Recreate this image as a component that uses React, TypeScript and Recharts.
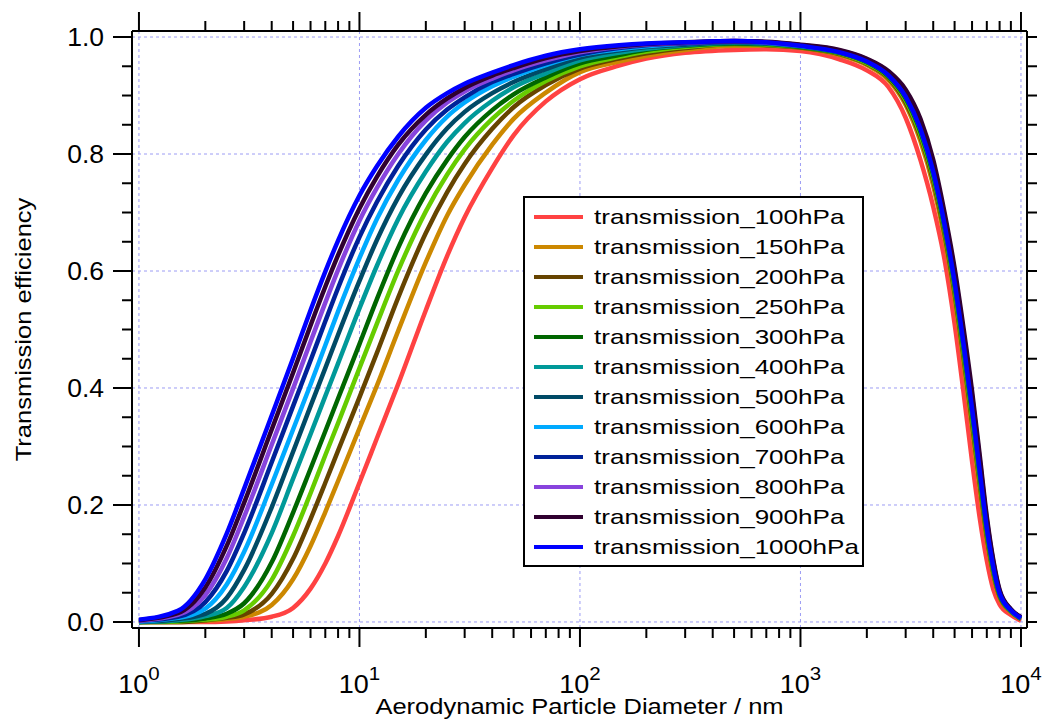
import { CartesianGrid, Legend, Line, LineChart, XAxis, YAxis } from "recharts";

const FONT = '"Liberation Sans", Arial, Helvetica, sans-serif';

// aerodynamic diameter grid (nm)
const diameters = [
  1, 1.5, 2, 2.5, 3, 4, 5, 6, 7, 8, 10, 12, 15, 20, 25, 30, 40, 50, 70, 100,
  150, 200, 300, 500, 700, 1000, 1500, 2000, 2500, 3000, 3500, 4000, 4500, 5000,
  5500, 6000, 6500, 7000, 7500, 8000, 9000, 10000,
];

// transmission efficiency per pressure level, one value per diameter
const t100 = [0.0, 0.0, 0.0, 0.001, 0.003, 0.009, 0.024, 0.057, 0.1, 0.147, 0.238, 0.314, 0.407, 0.533, 0.626, 0.692, 0.776, 0.832, 0.89, 0.928, 0.951, 0.963, 0.973, 0.978, 0.979, 0.976, 0.962, 0.943, 0.915, 0.862, 0.79, 0.71, 0.62, 0.51, 0.39, 0.275, 0.178, 0.105, 0.055, 0.03, 0.012, 0.002];
const t150 = [0.0, 0.0, 0.002, 0.005, 0.009, 0.029, 0.073, 0.13, 0.188, 0.241, 0.331, 0.404, 0.498, 0.615, 0.695, 0.747, 0.816, 0.86, 0.905, 0.94, 0.958, 0.968, 0.978, 0.985, 0.985, 0.981, 0.969, 0.952, 0.927, 0.884, 0.822, 0.746, 0.656, 0.553, 0.44, 0.329, 0.226, 0.139, 0.078, 0.041, 0.017, 0.005];
const t200 = [0.0, 0.0, 0.003, 0.007, 0.013, 0.048, 0.108, 0.176, 0.238, 0.293, 0.384, 0.46, 0.555, 0.665, 0.735, 0.783, 0.843, 0.88, 0.918, 0.946, 0.963, 0.972, 0.981, 0.988, 0.986, 0.982, 0.971, 0.954, 0.93, 0.888, 0.829, 0.754, 0.664, 0.562, 0.451, 0.341, 0.237, 0.146, 0.083, 0.044, 0.018, 0.005];
const t250 = [0.0, 0.001, 0.004, 0.009, 0.02, 0.072, 0.147, 0.22, 0.285, 0.34, 0.434, 0.51, 0.601, 0.702, 0.765, 0.808, 0.86, 0.891, 0.925, 0.95, 0.966, 0.975, 0.983, 0.988, 0.987, 0.983, 0.972, 0.955, 0.932, 0.892, 0.833, 0.76, 0.67, 0.569, 0.458, 0.349, 0.244, 0.152, 0.086, 0.046, 0.018, 0.006];
const t300 = [0.0, 0.002, 0.006, 0.014, 0.032, 0.102, 0.187, 0.262, 0.326, 0.382, 0.475, 0.552, 0.64, 0.733, 0.79, 0.829, 0.875, 0.902, 0.931, 0.955, 0.969, 0.978, 0.985, 0.989, 0.988, 0.983, 0.973, 0.957, 0.933, 0.895, 0.838, 0.764, 0.674, 0.575, 0.465, 0.357, 0.251, 0.156, 0.089, 0.047, 0.019, 0.006];
const t400 = [0.0, 0.003, 0.01, 0.024, 0.06, 0.152, 0.245, 0.321, 0.386, 0.442, 0.536, 0.609, 0.689, 0.77, 0.821, 0.853, 0.891, 0.914, 0.938, 0.96, 0.973, 0.98, 0.986, 0.99, 0.989, 0.984, 0.974, 0.958, 0.935, 0.898, 0.842, 0.769, 0.679, 0.58, 0.471, 0.364, 0.257, 0.161, 0.092, 0.049, 0.019, 0.006];
const t500 = [0.0, 0.005, 0.014, 0.041, 0.089, 0.196, 0.291, 0.369, 0.434, 0.491, 0.583, 0.653, 0.726, 0.799, 0.844, 0.872, 0.904, 0.923, 0.945, 0.965, 0.977, 0.983, 0.987, 0.991, 0.989, 0.985, 0.975, 0.959, 0.937, 0.9, 0.846, 0.774, 0.684, 0.586, 0.478, 0.371, 0.264, 0.165, 0.095, 0.05, 0.02, 0.007];
const t600 = [0.001, 0.007, 0.023, 0.064, 0.12, 0.235, 0.329, 0.406, 0.473, 0.531, 0.622, 0.689, 0.756, 0.824, 0.864, 0.888, 0.916, 0.932, 0.952, 0.969, 0.979, 0.984, 0.989, 0.992, 0.99, 0.985, 0.976, 0.96, 0.938, 0.903, 0.85, 0.778, 0.688, 0.591, 0.484, 0.377, 0.269, 0.169, 0.098, 0.051, 0.021, 0.007];
const t700 = [0.002, 0.009, 0.034, 0.087, 0.152, 0.273, 0.369, 0.447, 0.514, 0.571, 0.658, 0.718, 0.78, 0.842, 0.876, 0.897, 0.923, 0.937, 0.955, 0.97, 0.981, 0.986, 0.989, 0.992, 0.991, 0.986, 0.976, 0.961, 0.939, 0.905, 0.852, 0.781, 0.691, 0.595, 0.488, 0.382, 0.273, 0.172, 0.1, 0.052, 0.021, 0.007];
const t800 = [0.002, 0.012, 0.046, 0.109, 0.18, 0.303, 0.399, 0.479, 0.546, 0.602, 0.686, 0.742, 0.8, 0.857, 0.888, 0.907, 0.929, 0.943, 0.96, 0.974, 0.983, 0.987, 0.99, 0.993, 0.991, 0.986, 0.977, 0.962, 0.94, 0.907, 0.855, 0.784, 0.694, 0.598, 0.492, 0.387, 0.278, 0.175, 0.102, 0.053, 0.021, 0.008];
const t900 = [0.003, 0.015, 0.059, 0.13, 0.204, 0.329, 0.426, 0.507, 0.573, 0.627, 0.707, 0.761, 0.816, 0.867, 0.895, 0.913, 0.934, 0.947, 0.964, 0.976, 0.984, 0.988, 0.991, 0.993, 0.992, 0.987, 0.978, 0.963, 0.942, 0.91, 0.86, 0.79, 0.7, 0.605, 0.5, 0.395, 0.285, 0.18, 0.105, 0.055, 0.022, 0.008];
const t1000 = [0.004, 0.019, 0.073, 0.151, 0.228, 0.353, 0.451, 0.533, 0.599, 0.652, 0.729, 0.779, 0.83, 0.879, 0.904, 0.92, 0.939, 0.952, 0.968, 0.979, 0.986, 0.989, 0.991, 0.993, 0.991, 0.985, 0.974, 0.958, 0.935, 0.898, 0.843, 0.77, 0.68, 0.581, 0.473, 0.365, 0.258, 0.161, 0.093, 0.049, 0.02, 0.007];

const series = [
  { key: "t100", name: "transmission_100hPa", color: "#ff4242", values: t100 },
  { key: "t150", name: "transmission_150hPa", color: "#cc8800", values: t150 },
  { key: "t200", name: "transmission_200hPa", color: "#664400", values: t200 },
  { key: "t250", name: "transmission_250hPa", color: "#66cc00", values: t250 },
  { key: "t300", name: "transmission_300hPa", color: "#006600", values: t300 },
  { key: "t400", name: "transmission_400hPa", color: "#009999", values: t400 },
  { key: "t500", name: "transmission_500hPa", color: "#004a66", values: t500 },
  { key: "t600", name: "transmission_600hPa", color: "#00aaff", values: t600 },
  { key: "t700", name: "transmission_700hPa", color: "#002299", values: t700 },
  { key: "t800", name: "transmission_800hPa", color: "#8844dd", values: t800 },
  { key: "t900", name: "transmission_900hPa", color: "#300030", values: t900 },
  { key: "t1000", name: "transmission_1000hPa", color: "#0000ff", values: t1000 },
];

const rows = diameters.map((d, i) => {
  const row: Record<string, number> = { d };
  series.forEach((s) => {
    row[s.key] = s.values[i];
  });
  return row;
});

// axes: a little padding around the data so the frame sits outside the curves
const X_DOMAIN = [0.93, 10650];
const Y_DOMAIN = [-0.0103, 1.0103];
const xMajor = [1, 10, 100, 1000, 10000];
const xTicks = [
  ...[1, 10, 100, 1000].flatMap((dec) => [1, 2, 3, 4, 5, 6, 7, 8, 9].map((m) => m * dec)),
  10000,
];
const yMajor = [0, 0.2, 0.4, 0.6, 0.8, 1.0];
const yTicks = Array.from({ length: 21 }, (_, i) => i / 20);

const isYMajor = (v: number) => Math.round(v * 20) % 4 === 0;
const AXIS = { stroke: "#000", strokeWidth: 2 };

function BottomTick({ x, y, payload }: any) {
  const v = payload.value;
  const major = xMajor.includes(v);
  return (
    <g>
      <line x1={x} x2={x} y1={y} y2={y + (major ? 19 : 10)} stroke="#000" strokeWidth={2} />
      {major && (
        <text
          transform={`translate(${x},${y + 65}) scale(1.08,1)`}
          textAnchor="middle"
          fontFamily={FONT}
          fontSize={25}
          fill="#000"
        >
          10
          <tspan fontSize={19} dy={-13}>
            {Math.round(Math.log10(v))}
          </tspan>
        </text>
      )}
    </g>
  );
}

function TopTick({ x, y, payload }: any) {
  const major = xMajor.includes(payload.value);
  return <line x1={x} x2={x} y1={y} y2={y - (major ? 19 : 10)} stroke="#000" strokeWidth={2} />;
}

function LeftTick({ x, y, payload }: any) {
  const v = payload.value;
  const major = isYMajor(v);
  return (
    <g>
      <line x1={x} x2={x - (major ? 19 : 10)} y1={y} y2={y} stroke="#000" strokeWidth={2} />
      {major && (
        <text
          transform={`translate(${x - 28},${y + 9}) scale(1.06,1)`}
          textAnchor="end"
          fontFamily={FONT}
          fontSize={25}
          fill="#000"
        >
          {v.toFixed(1)}
        </text>
      )}
    </g>
  );
}

function RightTick({ x, y }: any) {
  return <line x1={x} x2={x + 10} y1={y} y2={y} stroke="#000" strokeWidth={2} />;
}

function XTitle({ viewBox }: any) {
  const { x, y, width } = viewBox;
  return (
    <text
      transform={`translate(${x + width / 2},${y + 86}) scale(1.16,1)`}
      textAnchor="middle"
      fontFamily={FONT}
      fontSize={22}
      fill="#000"
    >
      Aerodynamic Particle Diameter / nm
    </text>
  );
}

function YTitle({ viewBox }: any) {
  const { x, y, height } = viewBox;
  return (
    <text
      transform={`translate(${x - 21},${y + height / 2}) rotate(-90) scale(1.16,1)`}
      textAnchor="middle"
      fontFamily={FONT}
      fontSize={22}
      fill="#000"
    >
      Transmission efficiency
    </text>
  );
}

function LegendBox() {
  return (
    <div
      style={{
        width: 337,
        height: 363,
        paddingTop: 4,
        border: "2px solid #000",
        background: "#fff",
      }}
    >
      {series.map((s) => (
        <div key={s.key} style={{ display: "flex", alignItems: "center", height: 30 }}>
          <span style={{ display: "block", width: 49, height: 4, marginLeft: 9, background: s.color }} />
          <span
            style={{
              display: "block",
              marginLeft: 11,
              fontFamily: FONT,
              fontSize: 21,
              lineHeight: "30px",
              whiteSpace: "nowrap",
              color: "#000",
              transform: "scaleX(1.24)",
              transformOrigin: "left center",
            }}
          >
            {s.name}
          </span>
        </div>
      ))}
    </div>
  );
}

export default function App() {
  return (
    <div style={{ position: "absolute", left: 0, top: 0, width: 1044, height: 722, background: "#fff" }}>
      <LineChart width={1044} height={722} data={rows} margin={{ top: 11, right: 7, bottom: 34, left: 52 }}>
        <CartesianGrid
          horizontalValues={yMajor}
          verticalValues={xMajor}
          stroke="#9c9cf4"
          strokeDasharray="3 3"
        />
        <XAxis
          dataKey="d"
          type="number"
          scale="log"
          domain={X_DOMAIN}
          allowDataOverflow
          ticks={xTicks}
          interval={0}
          height={60}
          tickSize={0}
          tickMargin={0}
          tickLine={false}
          axisLine={AXIS}
          tick={BottomTick}
          label={<XTitle />}
        />
        <XAxis
          xAxisId="top"
          orientation="top"
          dataKey="d"
          type="number"
          scale="log"
          domain={X_DOMAIN}
          allowDataOverflow
          ticks={xTicks}
          interval={0}
          height={20}
          tickSize={0}
          tickMargin={0}
          tickLine={false}
          axisLine={AXIS}
          tick={TopTick}
        />
        <YAxis
          type="number"
          domain={Y_DOMAIN}
          allowDataOverflow
          ticks={yTicks}
          interval={0}
          width={80}
          tickSize={0}
          tickMargin={0}
          tickLine={false}
          axisLine={AXIS}
          tick={LeftTick}
          label={<YTitle />}
        />
        <YAxis
          yAxisId="right"
          orientation="right"
          type="number"
          domain={Y_DOMAIN}
          allowDataOverflow
          ticks={yTicks}
          interval={0}
          width={10}
          tickSize={0}
          tickMargin={0}
          tickLine={false}
          axisLine={AXIS}
          tick={RightTick}
        />
        {series.map((s) => (
          <Line
            key={s.key}
            type="monotone"
            dataKey={s.key}
            name={s.name}
            stroke={s.color}
            strokeWidth={4.5}
            dot={false}
            activeDot={false}
            isAnimationActive={false}
          />
        ))}
        <Legend
          layout="vertical"
          align="center"
          verticalAlign="middle"
          wrapperStyle={{ left: 523, top: 196, width: 341 }}
          content={() => <LegendBox />}
        />
      </LineChart>
    </div>
  );
}
